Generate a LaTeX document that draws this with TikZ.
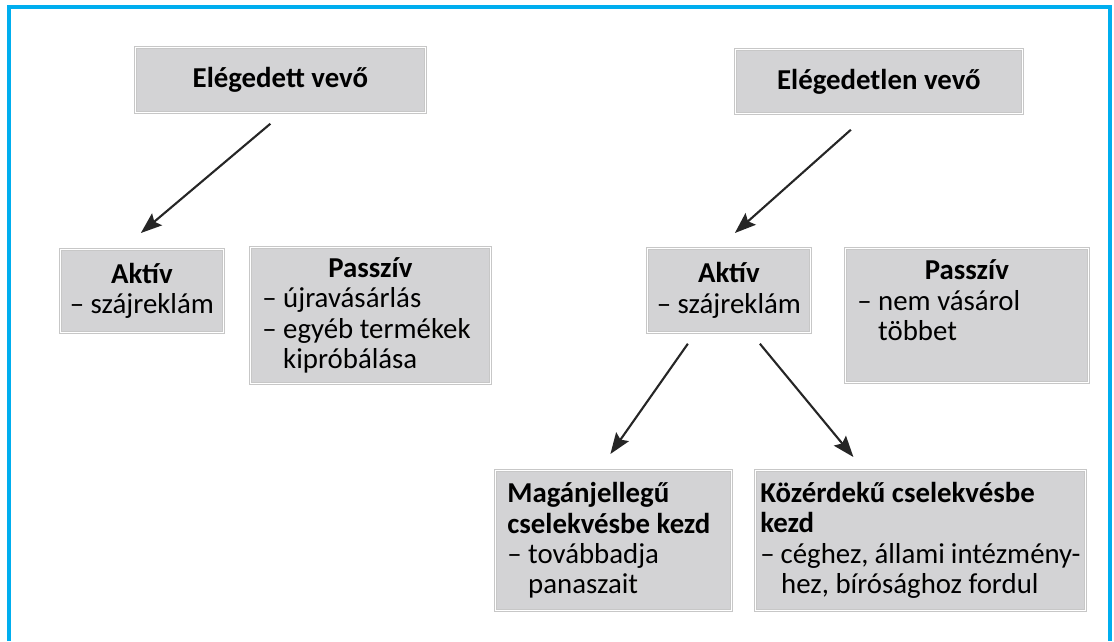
\documentclass[tikz,border=0pt]{standalone}
\usepackage{fontspec}
\setmainfont{Carlito}
\usepackage{tikz}
\usetikzlibrary{arrows.meta}
\usetikzlibrary{calc}
\usetikzlibrary{shadows}
\definecolor{framecyan}{RGB}{0,174,239}
\definecolor{boxgray}{RGB}{211,211,213}
\newcommand{\boxtitle}[1]{\makebox[\linewidth][c]{\bfseries #1}}

\begin{document}
\begin{tikzpicture}[x=0.025cm, y=-0.025cm,
    box/.style={anchor=north west, fill=boxgray, draw=black!22, double=white,
        double distance=1.1pt, line width=0.5pt, inner xsep=0pt, inner ysep=4pt,
        font=\fontsize{20.5pt}{21.5pt}\selectfont,
        drop shadow={shadow xshift=0.7pt, shadow yshift=-0.7pt, opacity=0.3}},
    arr/.style={-{Stealth[length=15pt, width=11pt, inset=2.5pt]}, line width=1.5pt, black!85}]
    \useasboundingbox (0,0) rectangle (1114,641);
    \draw[framecyan, line width=2.2pt] (9,641) -- (9,7) -- (1110,7) -- (1110,641);

    \node[box, minimum width=7.25cm, minimum height=1.625cm] (e1) at (135,47) {\textbf{Elégedett vevő}};
    \node[box, minimum width=7.175cm, minimum height=1.6cm] (e2) at (735,49) {\textbf{Elégedetlen vevő}};

    \node[box, minimum width=4.075cm, minimum height=2.075cm, align=center] (a1) at (60,249) {\textbf{Aktív}\\–~szájreklám};
    \node[box, minimum width=6cm, minimum height=3.4cm, text width=5.4cm, align=flush left] (p1) at (250,247)
        {\boxtitle{Passzív}\\–~újravásárlás\\–~egyéb~termékek\\\hphantom{–~}kipróbálása};
    \node[box, minimum width=4.075cm, minimum height=2.1cm, align=center] (a2) at (647,248) {\textbf{Aktív}\\–~szájreklám};
    \node[box, minimum width=6.075cm, minimum height=3.35cm, text width=5.475cm, align=flush left] (p2) at (845,248)
        {\boxtitle{Passzív}\\–~nem~vásárol\\\hphantom{–~}többet\\\mbox{}};

    \node[box, minimum width=5.9cm, minimum height=3.5cm, text width=5.3cm, align=flush left] (m) at (495,470)
        {{\bfseries Magánjellegű\\\mbox{cselekvésbe kezd}}\\–~továbbadja\\\hphantom{–~}panaszait};
    \node[box, minimum width=8.25cm, minimum height=3.5cm, text width=8.0cm, align=flush left] (k) at (755,470)
        {{\bfseries Közérdekű~cselekvésbe\\kezd}\\–~céghez,~állami~intézmény-\\\hphantom{–~}hez,~bírósághoz~fordul};

    \draw[arr] ($(e1.south)+(-10,11)$) -- ($(a1.north)+(-1,-16)$);
    \draw[arr] ($(e2.south)+(-28,16)$) -- ($(a2.north)+(6,-15)$);
    \draw[arr] ($(a2.south)+(-41,11)$) -- ($(m.north)+(-3,-16)$);
    \draw[arr] ($(a2.south)+(31,11)$) -- ($(k.north)+(-67,-13)$);
\end{tikzpicture}
\end{document}
